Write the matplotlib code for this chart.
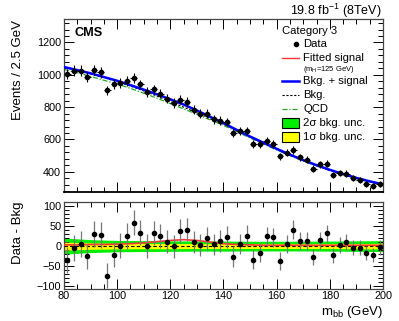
import matplotlib
matplotlib.use("Agg")
import matplotlib.pyplot as plt
import numpy as np
from matplotlib.patches import Rectangle
from matplotlib.lines import Line2D
from matplotlib.ticker import MultipleLocator

plt.rcParams["font.family"] = ["Liberation Sans", "DejaVu Sans"]
plt.rcParams["mathtext.fontset"] = "custom"
plt.rcParams["mathtext.rm"] = "Liberation Sans"
plt.rcParams["mathtext.it"] = "Liberation Sans:italic"

# m_bb bin centres (2.5 GeV bins)
bin_centers = [81.25, 83.75, 86.25, 88.75, 91.25, 93.75, 96.25, 98.75,
               101.25, 103.75, 106.25, 108.75, 111.25, 113.75, 116.25, 118.75,
               121.25, 123.75, 126.25, 128.75, 131.25, 133.75, 136.25, 138.75,
               141.25, 143.75, 146.25, 148.75, 151.25, 153.75, 156.25, 158.75,
               161.25, 163.75, 166.25, 168.75, 171.25, 173.75, 176.25, 178.75,
               181.25, 183.75, 186.25, 188.75, 191.25, 193.75, 196.25, 198.75]
data_counts = [1005, 1026, 1026, 985, 1029, 1015, 903, 943,
               952, 962, 980, 940, 892, 909, 884, 853,
               825, 846, 832, 784, 759, 758, 725, 716,
               707, 639, 650, 651, 571, 570, 592, 571,
               495, 518, 536, 490, 474, 420, 447, 449,
               380, 393, 389, 362, 351, 327, 312, 322]
residuals = [-35, -5, 5, -25, 30, 27, -73, -21,
             1, 25, 58, 33, 0, 33, 25, 11,
             0, 38, 41, 10, 3, 19, 4, 12,
             22, -26, 5, 26, -34, -16, 24, 22,
             -36, 5, 41, 12, 12, -27, 15, 32,
             -23, 3, 11, -4, -4, -17, -22, -3]

# fitted curves on a 5 GeV grid
curve_x = [80, 85, 90, 95, 100, 105, 110, 115, 120, 125, 130, 135, 140,
           145, 150, 155, 160, 165, 170, 175, 180, 185, 190, 195, 200]
bkg_curve = [1045, 1026, 1005, 982, 958, 930, 900, 868, 834, 800, 765, 730, 695,
             655, 615, 577, 540, 504, 470, 439, 410, 384, 360, 339, 320]
bkg_sig_curve = [1048, 1029, 1009, 986, 963, 936, 908, 879, 848, 816, 779, 740, 701,
                 659, 618, 580, 542, 506, 472, 441, 412, 386, 362, 341, 322]
qcd_curve = [1033, 1013, 990, 966, 943, 916, 886, 855, 822, 789, 755, 721, 687,
             648, 609, 572, 535, 500, 466, 436, 407, 382, 358, 337, 318]
signal_curve = [3, 3, 4, 4, 5, 6, 8, 11, 14, 16, 14, 10, 6,
                4, 3, 2, 2, 2, 2, 2, 2, 2, 2, 2, 2]

# background uncertainty half-widths
band_x = [80, 90, 100, 110, 120, 130, 140, 150, 160, 170, 180, 190, 200]
band_2sigma = [20, 16, 14, 13.5, 13, 12.5, 12.5, 12, 12, 12, 12.5, 13, 13.5]
band_1sigma = [10, 8, 7, 6.5, 6.5, 6, 6, 6, 6, 6, 6, 6.5, 7]

GREEN = "#00ee00"
YELLOW = "#ffff00"
BLUE = "#0000ff"
RED = "#ff3333"
QCD_GREEN = "#22aa22"

fig = plt.figure(figsize=(3.99, 3.21), dpi=100)
ax_top = fig.add_axes([0.1604, 0.4019, 0.7995, 0.5389])
ax_bot = fig.add_axes([0.1604, 0.1012, 0.7995, 0.2680])

x_data = np.array(bin_centers)
y_data = np.array(data_counts)
y_err = np.sqrt(y_data)

ax_top.plot(curve_x, qcd_curve, color=QCD_GREEN, lw=0.9, ls=(0, (4, 1.5, 1, 1.5)), zorder=2)
ax_top.plot(curve_x, bkg_curve, color="black", lw=0.8, ls=(0, (2, 1.5)), zorder=3)
ax_top.plot(curve_x, bkg_sig_curve, color=BLUE, lw=1.8, zorder=4)
ax_top.errorbar(x_data, y_data, xerr=1.25, yerr=y_err, fmt="o", ms=3, color="black",
                elinewidth=0.8, capsize=0, zorder=5)

ax_top.set_xlim(80, 200)
ax_top.set_ylim(275, 1345)
ax_top.tick_params(labelbottom=False)
ax_top.yaxis.set_major_locator(MultipleLocator(200))
ax_top.yaxis.set_minor_locator(MultipleLocator(40))

# residual panel
ax_bot.fill_between(band_x, [-w for w in band_2sigma], band_2sigma, color=GREEN, lw=0, zorder=1)
ax_bot.fill_between(band_x, [-w for w in band_1sigma], band_1sigma, color=YELLOW, lw=0, zorder=2)
ax_bot.axhline(0, color="black", lw=0.8, ls=(0, (3, 2)), zorder=3)
ax_bot.plot(curve_x, signal_curve, color=RED, lw=1.2, zorder=4)
ax_bot.errorbar(x_data, residuals, yerr=y_err, fmt="o", ms=3, color="black",
                ecolor="#777777", elinewidth=0.9, capsize=0, zorder=5)
ax_bot.set_xlim(80, 200)
ax_bot.set_ylim(-105, 108)
ax_bot.yaxis.set_major_locator(MultipleLocator(50))
ax_bot.yaxis.set_minor_locator(MultipleLocator(10))

for ax in (ax_top, ax_bot):
    ax.xaxis.set_major_locator(MultipleLocator(20))
    ax.xaxis.set_minor_locator(MultipleLocator(5))
    ax.tick_params(which="both", direction="in", top=True, right=True,
                   labelsize=7.8, pad=2, width=0.7)
    ax.tick_params(which="major", length=7)
    ax.tick_params(which="minor", length=3.5)
    for side in ax.spines.values():
        side.set_linewidth(0.9)
        side.set_color("#444444")
ax_top.spines["bottom"].set_color("black")
ax_top.spines["bottom"].set_linewidth(1.3)

# axis titles (ROOT-style, aligned to the end of the axis)
fig.text(18 / 399, 1 - 20 / 321, "Events / 2.5 GeV", rotation=90, ha="center", va="top", fontsize=9.5)
fig.text(18 / 399, 1 - 201 / 321, "Data - Bkg", rotation=90, ha="center", va="top", fontsize=9.5)
fig.text(383 / 399, 1 - 312 / 321, r"m$_{\mathrm{bb}}$ (GeV)", ha="right", va="center", fontsize=9.5)
fig.text(382 / 399, 1 - 11 / 321, r"19.8 fb$^{\mathrm{-1}}$ (8TeV)", ha="right", va="center", fontsize=9)

ax_top.text(0.034, 0.919, "CMS", transform=ax_top.transAxes, fontsize=9.2,
            fontweight="bold", ha="left", va="center")

# legend
tr = ax_top.transAxes
leg_fs = 8.1
line_x0, line_x1, text_x = 0.684, 0.736, 0.750
ax_top.text(0.682, 0.932, "Category 3", transform=tr, fontsize=leg_fs, ha="left", va="center")
ax_top.plot([0.726], [0.857], "o", ms=3, color="black", transform=tr, clip_on=False)
ax_top.text(text_x, 0.857, "Data", transform=tr, fontsize=leg_fs, ha="left", va="center")
legend_lines = [
    (0.777, "Fitted signal", dict(color=RED, lw=1.0)),
    (0.643, "Bkg. + signal", dict(color=BLUE, lw=1.8)),
    (0.561, "Bkg.", dict(color="black", lw=0.8, ls=(0, (2, 1.5)))),
    (0.481, "QCD", dict(color=QCD_GREEN, lw=0.9, ls=(0, (4, 1.5, 1, 1.5)))),
]
for y, label, style in legend_lines:
    ax_top.add_line(Line2D([line_x0, line_x1], [y, y], transform=tr, **style))
    ax_top.text(text_x, y, label, transform=tr, fontsize=leg_fs, ha="left", va="center")
ax_top.text(text_x, 0.707, r"(m$_{\mathrm{H}}$=125 GeV)", transform=tr, fontsize=5.5,
            ha="left", va="center")
for y, label, color in [(0.399, "2σ bkg. unc.", GREEN), (0.318, "1σ bkg. unc.", YELLOW)]:
    ax_top.add_patch(Rectangle((line_x0, y - 0.029), line_x1 - line_x0, 0.058, transform=tr,
                               facecolor=color, edgecolor="black", lw=0.8))
    ax_top.text(text_x, y, label, transform=tr, fontsize=leg_fs, ha="left", va="center")

fig.savefig("out.png", dpi=100)
